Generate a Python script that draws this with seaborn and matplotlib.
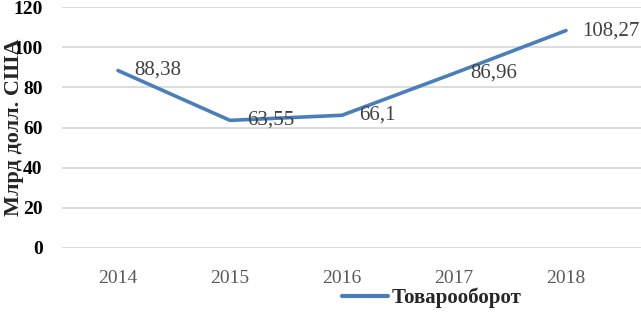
import matplotlib
matplotlib.use("Agg")
import matplotlib.pyplot as plt
import seaborn as sns
import pandas as pd

years = ["2014", "2015", "2016", "2017", "2018"]
turnover = [88.38, 63.55, 66.1, 86.96, 108.27]
value_labels = ["88,38", "63,55", "66,1", "86,96", "108,27"]
series_name = "Товарооборот"

df = pd.DataFrame({"year": years, "value": turnover})

sns.set_style("white")
plt.rcParams["font.family"] = ["Liberation Serif", "DejaVu Serif"]

fig = plt.figure(figsize=(6.41, 3.14), dpi=100)
ax = fig.add_axes([62 / 641, 1 - 248 / 314, 1 - 62 / 641, (248 - 7) / 314])

blue = "#4A7EBB"
sns.lineplot(data=df, x="year", y="value", sort=False, color=blue,
             linewidth=2.6, ax=ax, legend=False)

for i, (v, lab) in enumerate(zip(turnover, value_labels)):
    ax.annotate(lab, (i, v), xytext=(12, 0), textcoords="offset points",
                ha="left", va="center", fontsize=15, color="#404040")

ax.set_ylim(0, 120)
ax.set_xlim(-0.5, 4.5 + 19 / 112)
ax.set_yticks(range(0, 121, 20))
ax.yaxis.grid(True, color="#D9D9D9", linewidth=1.3)
ax.set_axisbelow(True)
for s in ax.spines.values():
    s.set_visible(False)

ax.tick_params(axis="y", length=0, pad=14, labelsize=14, labelcolor="black")
ax.tick_params(axis="x", length=0, pad=16, labelsize=14, labelcolor="#595959")
for t in ax.get_yticklabels():
    t.set_fontweight("bold")

ax.set_xlabel("")
ax.set_ylabel("Млрд долл. США", fontsize=16, fontweight="bold")
ax.yaxis.set_label_coords(-38 / 579, 0.5)

handle = plt.Line2D([], [], color=blue, linewidth=3)
fig.legend([handle], [series_name], loc="center", bbox_to_anchor=(432 / 641, 1 - 298 / 314),
           frameon=False, prop={"family": "Liberation Serif", "weight": "bold", "size": 15},
           handlelength=2.2, handletextpad=0.2, borderaxespad=0)

fig.savefig("out.png", dpi=100)
